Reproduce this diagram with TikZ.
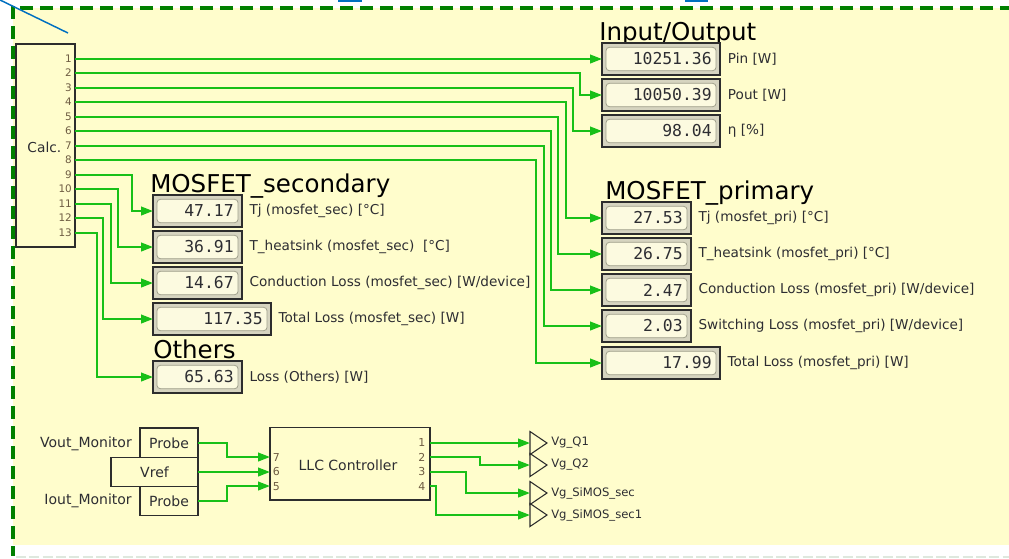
\documentclass[tikz,border=0pt]{standalone}
\usepackage{fontspec}
\setmainfont{DejaVu Sans}
\setmonofont{DejaVu Sans Mono}
\usetikzlibrary{arrows.meta,calc}
\definecolor{bgyellow}{RGB}{255,253,204}
\definecolor{bordergreen}{RGB}{0,128,0}
\definecolor{wiregreen}{RGB}{24,192,24}
\definecolor{dispfill}{RGB}{214,212,192}
\definecolor{dispinner}{RGB}{252,250,224}
\definecolor{dispinnerline}{RGB}{160,160,140}
\definecolor{darkline}{RGB}{45,45,45}
\definecolor{pincol}{RGB}{110,92,66}
\definecolor{txtcol}{RGB}{45,45,50}
\definecolor{bluecol}{RGB}{0,112,192}
\definecolor{faintline}{RGB}{222,232,222}
\newcommand\dispval[7]{%
  \node[dispbox, minimum width={#4*0.75pt}] (#1) at (#2,#3) {};
  \draw[dispin] ($(#1.north west)+(4,4)$) rectangle ($(#1.south east)+(-4,-4)$);
  \node[valtxt] (#1v) at ($(#1.east)+(-8,0)$) {#5};
  \node[lbl] (#1l) at (#6,#3) {#7};
}
\begin{document}
\begin{tikzpicture}[x=0.75pt,y=-0.75pt,
  wire/.style={draw=wiregreen,line width=1.5pt,-{Triangle[length=9pt,width=6.5pt]}},
  dispbox/.style={draw=darkline,line width=1.4pt,fill=dispfill,minimum height=23.5pt,inner sep=0pt,outer sep=0pt,anchor=west},
  dispin/.style={draw=dispinnerline,fill=dispinner,line width=0.6pt,rounded corners=2.5pt},
  valtxt/.style={anchor=east,inner sep=0pt,text=txtcol,font=\ttfamily\fontsize{12.3}{14}\selectfont},
  lbl/.style={anchor=west,inner sep=0pt,text=txtcol,font=\fontsize{10.2}{12}\selectfont},
  header/.style={anchor=base west,inner sep=0pt,text=black,font=\fontsize{18.4}{22}\selectfont},
  block/.style={draw=darkline,line width=1.1pt,fill=bgyellow,inner sep=0pt,outer sep=0pt},
  pinnum/.style={anchor=east,inner sep=0pt,text=pincol,font=\fontsize{7.8}{9}\selectfont},
  bottxt/.style={inner sep=0pt,text=txtcol,font=\fontsize{10.5}{12}\selectfont},
  llcpin/.style={inner sep=0pt,text=pincol,font=\fontsize{8.2}{9}\selectfont},
  gatelbl/.style={anchor=west,inner sep=0pt,text=txtcol,font=\fontsize{8.7}{10}\selectfont},
  gate/.style={draw=darkline,line width=0.8pt}
]
\useasboundingbox (0,0) rectangle (1009,558);
\clip (0,0) rectangle (1009,558);
\fill[white] (0,0) rectangle (1009,558);
\fill[bgyellow] (13,8) rectangle (1009,545);
\draw[faintline,line width=1pt,dash pattern=on 7.5pt off 2.5pt] (16,557) -- (1009,557);
\draw[bordergreen,line width=3.4pt,dash pattern=on 9.75pt off 5.25pt] (20,8) -- (1009,8);
\draw[bordergreen,line width=3.6pt,dash pattern=on 9.75pt off 5.25pt] (13,6) -- (13,556);
\draw[bluecol,line width=1.1pt] (-2,-1) -- (68,33);
\fill[bluecol] (338,0) rectangle (362,2.2);
\fill[bluecol] (685,0) rectangle (708,2.2);

% Calc block
\node[block,minimum width={59*0.75pt},minimum height={203*0.75pt}] (calc) at (45.5,145.5) {};
\node[anchor=east,inner sep=0pt,text=txtcol,font=\fontsize{10.3}{12}\selectfont] (calclbl) at (61.5,147) {Calc.};
\foreach \i/\y in {1/59,2/73,3/88,4/102,5/117,6/131,7/146,8/160,9/175,10/189,11/204,12/218,13/233} {
  \node[pinnum] (cn\i) at (72,\y) {\i};
  \coordinate (c\i) at (75,\y);
}

% Headers
\node[header] (hio) at (599,40) {Input/Output};
\node[header] (hpri) at (605,199.5) {MOSFET\_primary};
\node[header] (hsec) at (150,192) {MOSFET\_secondary};
\node[header] (hoth) at (153,358.5) {Others};

% Input/Output
\dispval{io1}{602}{59}{118}{10251.36}{727.7}{Pin [W]}
\dispval{io2}{602}{95}{118}{10050.39}{727.7}{Pout [W]}
\dispval{io3}{602}{131}{118}{98.04}{727.7}{η [\%]}
% MOSFET primary
\dispval{mp1}{602}{218}{89}{27.53}{698.3}{Tj (mosfet\_pri) [°C]}
\dispval{mp2}{602}{254}{89}{26.75}{698.3}{T\_heatsink (mosfet\_pri) [°C]}
\dispval{mp3}{602}{290}{89}{2.47}{698.3}{Conduction Loss (mosfet\_pri) [W/device]}
\dispval{mp4}{602}{326}{89}{2.03}{698.3}{Switching Loss (mosfet\_pri) [W/device]}
\dispval{mp5}{602}{363}{118}{17.99}{727.3}{Total Loss (mosfet\_pri) [W]}
% MOSFET secondary
\dispval{ms1}{153}{211}{89}{47.17}{249.3}{Tj (mosfet\_sec) [°C]}
\dispval{ms2}{153}{247}{89}{36.91}{249.3}{T\_heatsink (mosfet\_sec)~ [°C]}
\dispval{ms3}{153}{283}{89}{14.67}{249.3}{Conduction Loss (mosfet\_sec) [W/device]}
\dispval{ms4}{153}{319}{118}{117.35}{278.3}{Total Loss (mosfet\_sec) [W]}
\dispval{oth}{153}{377}{89}{65.63}{249.3}{Loss (Others) [W]}

% wires from Calc
\draw[wire] (c1) -- (io1.west);
\draw[wire] (c2) -| ($(io2.west)+(-22,0)$) -- (io2.west);
\draw[wire] (c3) -| ($(io3.west)+(-29,0)$) -- (io3.west);
\draw[wire] (c4) -| ($(mp1.west)+(-36,0)$) -- (mp1.west);
\draw[wire] (c5) -| ($(mp2.west)+(-44,0)$) -- (mp2.west);
\draw[wire] (c6) -| ($(mp3.west)+(-51,0)$) -- (mp3.west);
\draw[wire] (c7) -| ($(mp4.west)+(-58,0)$) -- (mp4.west);
\draw[wire] (c8) -| ($(mp5.west)+(-66,0)$) -- (mp5.west);
\draw[wire] (c9) -| ($(ms1.west)+(-21,0)$) -- (ms1.west);
\draw[wire] (c10) -| ($(ms2.west)+(-35,0)$) -- (ms2.west);
\draw[wire] (c11) -| ($(ms3.west)+(-42,0)$) -- (ms3.west);
\draw[wire] (c12) -| ($(ms4.west)+(-50,0)$) -- (ms4.west);
\draw[wire] (c13) -| ($(oth.west)+(-56,0)$) -- (oth.west);

% bottom section
\node[block,minimum width={58*0.75pt},minimum height={29.6*0.75pt}] (probe1) at (169,443) {};
\node[bottxt] (probe1t) at (probe1.center) {Probe};
\node[block,minimum width={87*0.75pt},minimum height={28.7*0.75pt}] (vref) at (154.5,472) {};
\node[bottxt] (vreft) at (vref.center) {Vref};
\node[block,minimum width={58*0.75pt},minimum height={29*0.75pt}] (probe2) at (169,501) {};
\node[bottxt] (probe2t) at (probe2.center) {Probe};
\node[bottxt,anchor=east] (vmon) at (132,443.7) {Vout\_Monitor};
\node[bottxt,anchor=east] (imon) at (132,501) {Iout\_Monitor};

\node[block,minimum width={160*0.75pt},minimum height={72.3*0.75pt}] (llc) at (350,463.9) {};
\node[bottxt] (llct) at (348,465) {LLC Controller};
\coordinate (l7) at (270,457);
\coordinate (l6) at (270,472);
\coordinate (l5) at (270,486);
\node[llcpin,anchor=west] (l7n) at (272.5,457.3) {7};
\node[llcpin,anchor=west] (l6n) at (272.5,471.7) {6};
\node[llcpin,anchor=west] (l5n) at (272.5,486.3) {5};
\coordinate (r1) at (430,443);
\coordinate (r2) at (430,457);
\coordinate (r3) at (430,472);
\coordinate (r4) at (430,486);
\node[llcpin,anchor=east] (r1n) at (425.5,442.7) {1};
\node[llcpin,anchor=east] (r2n) at (425.5,457.3) {2};
\node[llcpin,anchor=east] (r3n) at (425.5,471.5) {3};
\node[llcpin,anchor=east] (r4n) at (425.5,486.3) {4};

\draw[wire] (probe1.east) -| ($(l7)+(-43,0)$) -- (l7);
\draw[wire] (vref.east) -- (l6);
\draw[wire] (probe2.east) -| ($(l5)+(-43,0)$) -- (l5);

\coordinate (g1) at (530,443);
\coordinate (g2) at (530,465);
\coordinate (g3) at (530,493);
\coordinate (g4) at (530,515);
\foreach \g in {g1,g2,g3,g4} {
  \draw[gate] ($(\g)+(0,-11.5)$) -- ($(\g)+(17,0)$) -- ($(\g)+(0,11.5)$) -- cycle;
}
\node[gatelbl] (g1l) at (551,442.7) {Vg\_Q1};
\node[gatelbl] (g2l) at (551,465) {Vg\_Q2};
\node[gatelbl] (g3l) at (551,493.3) {Vg\_SiMOS\_sec};
\node[gatelbl] (g4l) at (551,515) {Vg\_SiMOS\_sec1};

\draw[wire] (r1) -- (g1);
\draw[wire] (r2) -| ($(g2)+(-50,0)$) -- (g2);
\draw[wire] (r3) -| ($(g3)+(-64,0)$) -- (g3);
\draw[wire] (r4) -| ($(g4)+(-94,0)$) -- (g4);
\end{tikzpicture}
\end{document}
